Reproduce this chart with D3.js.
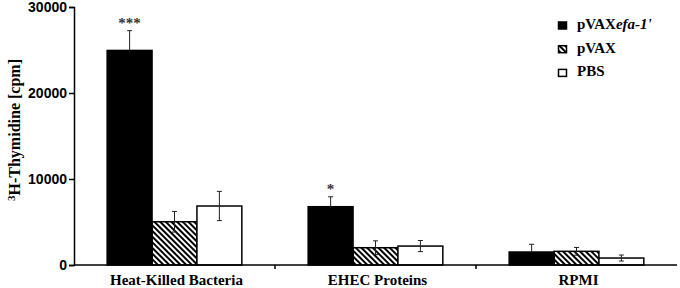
<!DOCTYPE html>
<html>
<head>
<meta charset="utf-8">
<script src="https://cdn.jsdelivr.net/npm/d3@7"></script>
<style>
  body { margin: 0; background: #fff; }
  svg { display: block; }
</style>
</head>
<body>
<div id="vis-container"></div>
<script>
// categories and series
const categories = ["Heat-Killed Bacteria", "EHEC Proteins", "RPMI"];
const seriesNames = ["pVAXefa-1'", "pVAX", "PBS"];
const pvaxEfa = [24950, 6780, 1510];
const pvaxEfaErr = [2300, 1150, 900];
const pvax = [5030, 2010, 1590];
const pvaxErr = [1200, 800, 450];
const pbs = [6860, 2200, 810];
const pbsErr = [1700, 650, 350];
const stars = ["***", "*", ""];
const yTicks = [0, 10000, 20000, 30000];

let width = 680, height = 288;
let margins = { top: 7, right: 3, bottom: 23, left: 74 };
let visWidth = width - margins.left - margins.right;
let visHeight = height - margins.top - margins.bottom;

let svg = d3.select("#vis-container").append("svg")
    .attr("width", width)
    .attr("height", height);

// hatch pattern for pVAX
let defs = svg.append("defs");
defs.append("pattern")
    .attr("id", "hatch")
    .attr("patternUnits", "userSpaceOnUse")
    .attr("width", 4).attr("height", 4)
    .attr("patternTransform", "rotate(-45)")
    .append("rect")
    .attr("x", 0).attr("y", 0).attr("width", 2).attr("height", 4)
    .attr("fill", "#000");

let viewport = svg.append("g")
    .attr("transform", "translate(" + margins.left + "," + margins.top + ")");

let x = d3.scaleBand().domain(categories).range([0, visWidth]).paddingInner(0.33).paddingOuter(0.165);
let xs = d3.scaleBand().domain(seriesNames).range([0, x.bandwidth()]);
let y = d3.scaleLinear().domain([0, 30000]).range([visHeight, 0]);

let fills = ["#000", "url(#hatch)", "#fff"];
let vals = [pvaxEfa, pvax, pbs];
let errs = [pvaxEfaErr, pvaxErr, pbsErr];

let rows = [];
categories.forEach((c, i) => {
    seriesNames.forEach((s, j) => {
        rows.push({ cat: c, s: s, j: j, v: vals[j][i], e: errs[j][i] });
    });
});

let bars = viewport.append("g");
bars.selectAll("rect").data(rows).enter().append("rect")
    .attr("x", d => x(d.cat) + xs(d.s))
    .attr("y", d => y(d.v))
    .attr("width", xs.bandwidth())
    .attr("height", d => y(0) - y(d.v))
    .attr("fill", d => fills[d.j])
    .attr("stroke", "#000")
    .attr("stroke-width", 1.5);

// error bars
let eb = viewport.append("g").attr("stroke", "#222").attr("stroke-width", 1);
rows.forEach(d => {
    let cx = x(d.cat) + xs(d.s) + xs.bandwidth() / 2;
    let lo = d.j == 0 ? d.v : d.v - d.e;
    eb.append("line").attr("x1", cx).attr("x2", cx).attr("y1", y(lo)).attr("y2", y(d.v + d.e));
    eb.append("line").attr("x1", cx - 2.5).attr("x2", cx + 2.5).attr("y1", y(d.v + d.e)).attr("y2", y(d.v + d.e));
    if (d.j != 0)
        eb.append("line").attr("x1", cx - 2.5).attr("x2", cx + 2.5).attr("y1", y(d.v - d.e)).attr("y2", y(d.v - d.e));
});

// significance stars
viewport.append("g").selectAll("text").data(categories).enter().append("text")
    .attr("x", c => x(c) + xs(seriesNames[0]) + xs.bandwidth() / 2)
    .attr("y", (c, i) => y(pvaxEfa[i] + pvaxEfaErr[i]) - 3)
    .attr("text-anchor", "middle")
    .style("font", "bold 15px 'Liberation Serif', serif")
    .attr("fill", "#333")
    .text((c, i) => stars[i]);

// axes
let yAxis = viewport.append("g")
    .call(d3.axisLeft(y).tickValues(yTicks).tickSize(5).tickFormat(d3.format("d")));
yAxis.select(".domain").attr("stroke-width", 1.5);
yAxis.selectAll(".tick line").attr("stroke-width", 1.5);
yAxis.selectAll("text")
    .style("font", "bold 14px 'Liberation Sans', Arial, sans-serif")
    .attr("fill", "#000").attr("x", -7);

let xAxis = viewport.append("g")
    .attr("transform", "translate(0," + visHeight + ")");
xAxis.append("line").attr("x1", 0).attr("x2", visWidth).attr("y1", 0).attr("y2", 0)
    .attr("stroke", "#000").attr("stroke-width", 1.5);
// tick marks between categories
let sep = [x(categories[1]) - x.step() * x.paddingInner() / 2, x(categories[2]) - x.step() * x.paddingInner() / 2];
xAxis.selectAll(".sep").data(sep).enter().append("line")
    .attr("x1", d => d).attr("x2", d => d).attr("y1", 0).attr("y2", 4)
    .attr("stroke", "#000").attr("stroke-width", 1.5);
xAxis.selectAll(".lab").data(categories).enter().append("text")
    .attr("x", c => x(c) + x.bandwidth() / 2 + 2)
    .attr("y", 20)
    .attr("text-anchor", "middle")
    .style("font", "bold 15px 'Liberation Serif', serif")
    .text(c => c);

// y label
let yl = svg.append("text")
    .attr("transform", "translate(20,130) rotate(-90)")
    .attr("text-anchor", "middle")
    .style("font", "bold 16px 'Liberation Serif', serif");
yl.append("tspan").attr("dy", -5).style("font-size", "11px").text("3");
yl.append("tspan").attr("dy", 5).text("H-Thymidine [cpm]");

// legend
let legend = svg.append("g").attr("transform", "translate(558,22)");
let li = legend.selectAll("g").data(seriesNames).enter().append("g")
    .attr("transform", (d, i) => "translate(0," + (i * 23.7) + ")");
li.append("rect").attr("x", 0.5).attr("y", 0).attr("width", 8).attr("height", 7)
    .attr("fill", (d, i) => fills[i]).attr("stroke", "#000").attr("stroke-width", 1.5);
let lt = li.append("text").attr("x", 19).attr("y", 7)
    .style("font", "bold 15px 'Liberation Serif', serif");
lt.each(function (d) {
    let t = d3.select(this);
    if (d.startsWith("pVAXefa")) {
        t.append("tspan").text("pVAX");
        t.append("tspan").style("font-style", "italic").text(d.slice(4));
    } else {
        t.text(d);
    }
});
</script>
</body>
</html>
